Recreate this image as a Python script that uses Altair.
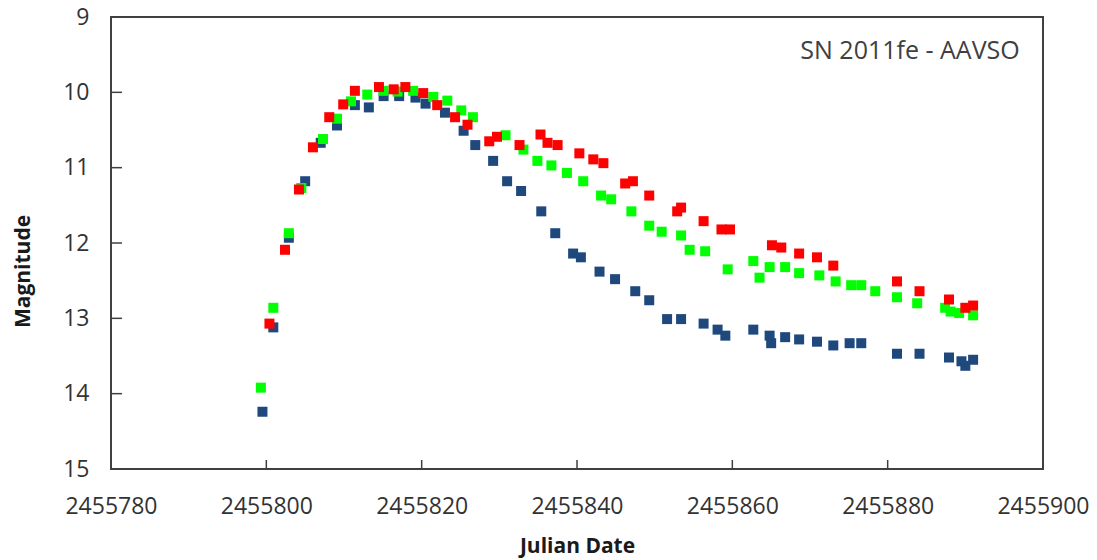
import altair as alt
import pandas as pd

# ---- data ----
blue_jd = [2455799.5, 2455800.9, 2455802.9, 2455805.0, 2455807.0, 2455809.1, 2455811.4, 2455813.2,
           2455815.1, 2455817.1, 2455819.2, 2455820.5, 2455823.0, 2455825.4, 2455826.9, 2455829.2,
           2455831.0, 2455832.8, 2455835.4, 2455837.2, 2455839.5, 2455840.5, 2455842.9, 2455844.9,
           2455847.5, 2455849.3, 2455851.6, 2455853.4, 2455856.3, 2455858.1, 2455859.1, 2455862.7,
           2455864.8, 2455865.0, 2455866.8, 2455868.6, 2455870.9, 2455873.0, 2455875.1, 2455876.6,
           2455881.2, 2455884.1, 2455887.9, 2455889.5, 2455890.0, 2455891.0]
blue_mag = [14.24, 13.12, 11.93, 11.18, 10.67, 10.44, 10.17, 10.20,
            10.05, 10.05, 10.07, 10.15, 10.27, 10.51, 10.70, 10.91,
            11.18, 11.31, 11.58, 11.87, 12.14, 12.19, 12.38, 12.48,
            12.64, 12.76, 13.01, 13.01, 13.07, 13.15, 13.23, 13.15,
            13.23, 13.33, 13.25, 13.28, 13.31, 13.36, 13.33, 13.33,
            13.47, 13.47, 13.52, 13.57, 13.63, 13.55]

green_jd = [2455799.3, 2455800.9, 2455802.9, 2455804.5, 2455807.3, 2455809.1, 2455810.9, 2455813.0,
            2455815.1, 2455816.9, 2455818.9, 2455821.5, 2455823.3, 2455825.1, 2455826.6, 2455830.8,
            2455833.1, 2455834.9, 2455836.7, 2455838.7, 2455840.8, 2455843.1, 2455844.4, 2455847.0,
            2455849.3, 2455850.9, 2455853.4, 2455854.5, 2455856.5, 2455859.4, 2455862.7, 2455863.5,
            2455864.8, 2455866.8, 2455868.6, 2455871.2, 2455873.3, 2455875.3, 2455876.6, 2455878.4,
            2455881.2, 2455883.8, 2455887.4, 2455888.1, 2455889.2, 2455891.0]
green_mag = [13.92, 12.86, 11.87, 11.27, 10.62, 10.35, 10.12, 10.03,
             9.98, 9.99, 9.98, 10.06, 10.11, 10.24, 10.33, 10.57,
             10.76, 10.91, 10.97, 11.07, 11.18, 11.37, 11.42, 11.58,
             11.77, 11.85, 11.90, 12.09, 12.11, 12.35, 12.24, 12.46,
             12.32, 12.32, 12.40, 12.43, 12.51, 12.56, 12.56, 12.64,
             12.72, 12.80, 12.86, 12.91, 12.93, 12.96]

red_jd = [2455800.4, 2455802.4, 2455804.2, 2455806.0, 2455808.1, 2455809.9, 2455811.4, 2455814.5,
          2455816.4, 2455817.9, 2455820.2, 2455822.0, 2455824.3, 2455825.9, 2455828.7, 2455829.7,
          2455832.6, 2455835.3, 2455836.2, 2455837.5, 2455840.3, 2455842.1, 2455843.4, 2455846.2,
          2455847.2, 2455849.3, 2455852.9, 2455853.4, 2455856.3, 2455858.6, 2455859.7, 2455865.1,
          2455866.3, 2455868.6, 2455870.9, 2455873.0, 2455881.2, 2455884.1, 2455887.9, 2455890.0,
          2455891.0]
red_mag = [13.07, 12.09, 11.29, 10.73, 10.33, 10.16, 9.98, 9.93,
           9.96, 9.93, 10.01, 10.17, 10.33, 10.43, 10.65, 10.59,
           10.70, 10.56, 10.67, 10.70, 10.81, 10.89, 10.94, 11.21,
           11.18, 11.37, 11.58, 11.53, 11.71, 11.82, 11.82, 12.03,
           12.06, 12.14, 12.19, 12.30, 12.51, 12.64, 12.75, 12.86,
           12.83]

series_names = ["B", "V", "R"]
series_colors = ["#1F497D", "#00FF00", "#FF0000"]

x_ticks = [2455780, 2455800, 2455820, 2455840, 2455860, 2455880, 2455900]
y_ticks = [9, 10, 11, 12, 13, 14, 15]

annot_text = ["SN 2011fe - AAVSO"]
annot_jd = [2455897.0]
annot_mag = [9.56]

# ---- tables ----
rows = []
for name, jds, mags in zip(series_names, [blue_jd, green_jd, red_jd], [blue_mag, green_mag, red_mag]):
    for j, m in zip(jds, mags):
        rows.append({"jd": j, "mag": m, "series": name})
df = pd.DataFrame(rows)

xt = pd.DataFrame({"jd": x_ticks[1:-1]})
yt = pd.DataFrame({"mag": y_ticks[1:-1]})
ann = pd.DataFrame({"jd": annot_jd, "mag": annot_mag, "text": annot_text})

W, H = 932, 452
FONT = "Open Sans"
TXT = "#333333"
AX = "#404040"

x_scale = alt.Scale(domain=[x_ticks[0], x_ticks[-1]], nice=False, zero=False)
y_scale = alt.Scale(domain=[y_ticks[0], y_ticks[-1]], reverse=True, nice=False, zero=False)

x_axis = alt.Axis(title="Julian Date", values=x_ticks, format="d", tickSize=0, domain=False,
                  grid=False, labelFont=FONT, labelFontSize=23, labelColor=TXT, labelPadding=26,
                  labelFlush=False, labelOverlap=False, titleFont=FONT, titleFontSize=21,
                  titleFontWeight="bold", titleColor="#1a1a1a", titleBaseline="alphabetic",
                  titleY=83)
y_axis = alt.Axis(title="Magnitude", values=y_ticks, format="d", tickSize=0, domain=False,
                  grid=False, labelFont=FONT, labelFontSize=23, labelColor=TXT, labelPadding=22,
                  labelFlush=False, labelOverlap=False, labelBaseline="middle",
                  titleFont=FONT, titleFontSize=21, titleFontWeight="bold", titleColor="#1a1a1a",
                  titleAngle=-90, titleBaseline="alphabetic", titleX=-82, titleY=254)

points = alt.Chart(df).mark_square(size=100, filled=True, opacity=1).encode(
    x=alt.X("jd:Q", scale=x_scale, axis=x_axis),
    y=alt.Y("mag:Q", scale=y_scale, axis=y_axis),
    color=alt.Color("series:N", scale=alt.Scale(domain=series_names, range=series_colors), legend=None),
)

xtick_rules = alt.Chart(xt).mark_rule(color=AX, strokeWidth=1.5).encode(
    x=alt.X("jd:Q", scale=x_scale),
    y=alt.value(H),
    y2=alt.value(H - 9),
)
ytick_rules = alt.Chart(yt).mark_rule(color=AX, strokeWidth=1.5).encode(
    y=alt.Y("mag:Q", scale=y_scale),
    x=alt.value(0),
    x2=alt.value(11),
)

label = alt.Chart(ann).mark_text(align="right", baseline="alphabetic", font=FONT,
                                 fontSize=25, color=AX).encode(
    x=alt.X("jd:Q", scale=x_scale),
    y=alt.Y("mag:Q", scale=y_scale),
    text="text:N",
)

chart = alt.layer(xtick_rules, ytick_rules, points, label).properties(
    width=W, height=H,
    padding={"left": 111, "top": 17, "right": 54, "bottom": 91},
    autosize=alt.AutoSizeParams(type="none"),
    background="white",
).configure_view(stroke=AX, strokeWidth=2)

chart.save("out.html", embed_options={"renderer": "svg", "actions": False})
